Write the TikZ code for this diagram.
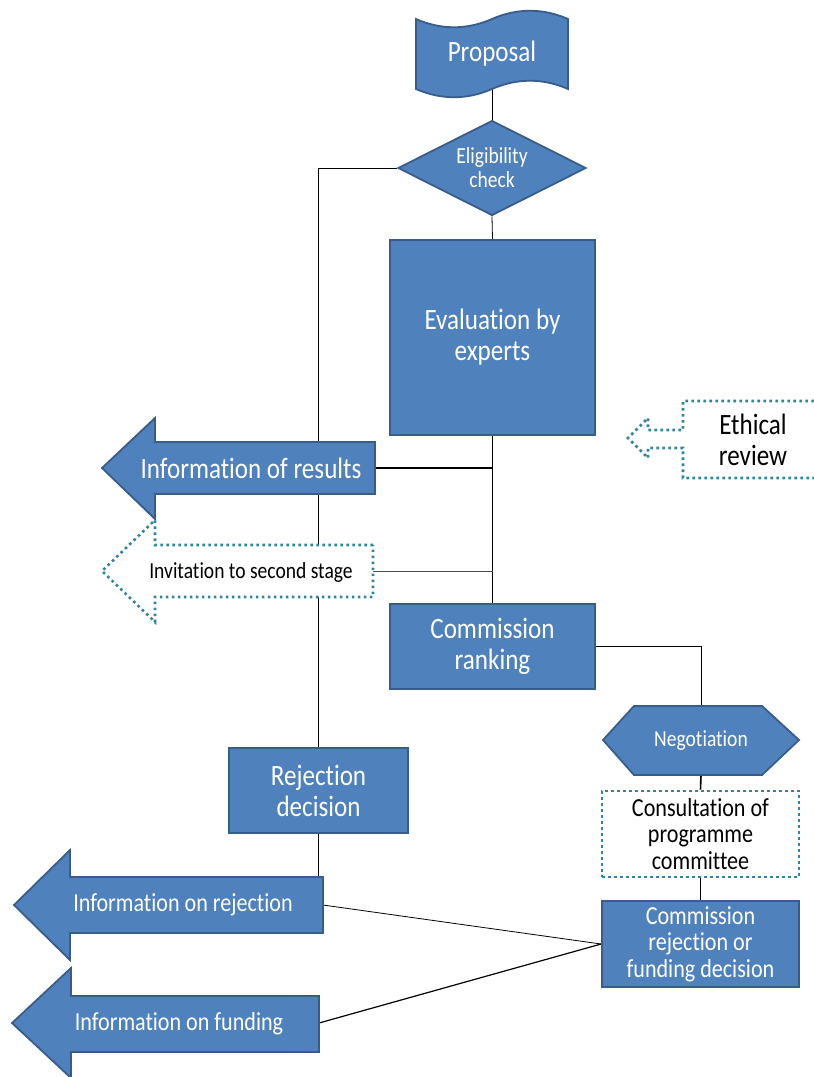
\documentclass[tikz,border=0pt]{standalone}
\usepackage{fontspec}
\setmainfont[FakeStretch=0.85,Ligatures=NoCommon]{Carlito}
\usetikzlibrary{shapes.geometric,backgrounds}
\definecolor{boxblue}{HTML}{4F81BD}
\definecolor{boxline}{HTML}{385D8A}
\definecolor{dotteal}{HTML}{31849B}
\newcommand{\fsbig}{\fontsize{29.5}{31}\selectfont}
\newcommand{\fsmid}{\fontsize{26}{26.5}\selectfont}
\newcommand{\fssmall}{\fontsize{23}{24}\selectfont}

\begin{document}
\begin{tikzpicture}[x=1pt,y=-1pt,
  bluebox/.style={rectangle,draw=boxline,fill=boxblue,line width=1.8pt,text=white,align=center,inner sep=0pt},
  blueshape/.style={draw=boxline,fill=boxblue,line width=1.8pt},
  dotshape/.style={draw=dotteal,fill=white,line width=2.6pt,dash pattern=on 2.6pt off 3.4pt},
  whitetext/.style={text=white,align=center,inner sep=0pt},
  blacktext/.style={text=black,align=center,inner sep=0pt},
  link/.style={draw=black,line width=0.8pt}]
\useasboundingbox (0,0) rectangle (814,1077);

% proposal
\draw[blueshape] (416,19) .. controls (441,30) and (467,30) .. (492,19)
  .. controls (517,8) and (543,8) .. (568,19) -- (568,89)
  .. controls (543,78) and (517,78) .. (492,89)
  .. controls (467,100) and (441,100) .. (416,89) -- cycle;
\node[whitetext,font=\fsbig,minimum width=152pt,minimum height=70pt] (proposal) at (492,54) {Proposal};

\node[bluebox,diamond,aspect=1.98,minimum width=188pt,minimum height=95pt,font=\fssmall] (elig) at (492,168) {Eligibility\\check};
\node[bluebox,minimum width=205pt,minimum height=195pt,font=\fsbig] (eval) at (492.5,337.5) {Evaluation by\\experts};

% arrows to the left
\draw[blueshape] (375,442) -- (155,442) -- (155,418) -- (102,468) -- (155,519) -- (155,494) -- (375,494) -- cycle;
\node[whitetext,font=\fsbig] (results) at (251,468) {Information of results};
\coordinate (resultsend) at (375,468);

\draw[dotshape] (373,545) -- (155,545) -- (155,520) -- (102,571) -- (155,622) -- (155,597) -- (373,597) -- cycle;
\node[blacktext,font=\fssmall] (invite) at (251,572) {Invitation to second stage};
\coordinate (inviteend) at (373,571);

\draw[dotshape] (814,401) -- (683,401) -- (683,430) -- (648,430) -- (648,418) -- (628,438)
  -- (648,458) -- (648,448) -- (683,448) -- (683,478) -- (814,478);
\node[blacktext,font=\fsbig] (ethics) at (753,440) {Ethical\\review};

\node[bluebox,minimum width=205pt,minimum height=85pt,font=\fsbig] (ranking) at (492.5,646.5) {Commission\\ranking};

% negotiation
\draw[blueshape] (603,740) -- (634,706) -- (762,706) -- (799,740) -- (762,775) -- (634,775) -- cycle;
\node[whitetext,font=\fssmall,minimum width=196pt,minimum height=69pt] (nego) at (701,740.5) {Negotiation};

\node[dotshape,rectangle,blacktext,minimum width=197pt,minimum height=86pt,font=\fsmid] (consult) at (700.5,834) {Consultation of\\programme\\committee};
\node[bluebox,minimum width=197pt,minimum height=86pt,font=\fsmid] (decision) at (700.5,944) {Commission\\rejection or\\funding decision};

\node[bluebox,minimum width=179pt,minimum height=85pt,font=\fsbig] (reject) at (318.5,790.5) {Rejection\\decision};

\draw[blueshape] (323,877) -- (70,877) -- (70,850) -- (14,905) -- (70,960) -- (70,933) -- (323,933) -- cycle;
\node[whitetext,font=\fsmid] (inforeject) at (183,905) {Information on rejection};
\coordinate (rejecttop) at (318.5,877);
\coordinate (rejectend) at (323,905);

\draw[blueshape] (319,996) -- (71,996) -- (71,968) -- (12,1023) -- (71,1078) -- (71,1052) -- (319,1052) -- cycle;
\node[whitetext,font=\fsmid] (infofund) at (179,1024) {Information on funding};
\coordinate (fundend) at (319,1023);

% connectors
\begin{scope}[on background layer]
\draw[link] (proposal.south) -- (elig.north);
\draw[link] (elig.south) -- (eval.north);
\draw[link] (elig.west) -| (reject.north);
\draw[link,line width=1.1pt] (eval.south) -- (ranking.north);
\draw[link,line width=1.6pt] (resultsend) -- (resultsend -| eval.south);
\draw[link,draw=black!70] (inviteend) -- (inviteend -| eval.south);
\draw[link] (ranking.east) -| (nego.north);
\draw[link,line width=1.6pt] (nego.south) -- (consult.north);
\draw[link,line width=1.6pt] (consult.south) -- (decision.north);
\draw[link] (reject.south) -- (rejecttop);
\draw[link] (rejectend) -- (decision.west);
\draw[link,line width=1.2pt] (fundend) -- (decision.west);
\end{scope}
\end{tikzpicture}
\end{document}
